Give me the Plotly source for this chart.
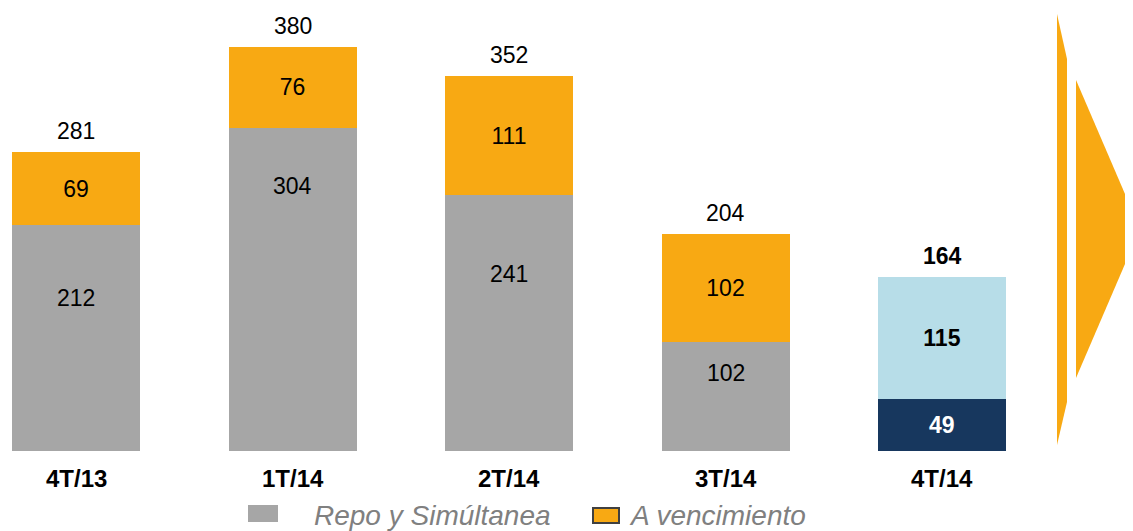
import plotly.graph_objects as go

# ---- data ----
categories = ["4T/13", "1T/14", "2T/14", "3T/14", "4T/14"]
repo_values = [212, 304, 241, 102, 49]        # bottom segment (last = navy)
venc_values = [69, 76, 111, 102, 115]         # top segment (last = light blue)
totals = [281, 380, 352, 204, 164]
legend_labels = ["Repo y Simúltanea", "A vencimiento"]

# ---- styling ----
GRAY = "#A6A6A6"
ORANGE = "#F8A913"
LBLUE = "#B7DDE8"
NAVY = "#17375E"
FONT = "Liberation Sans, Arial, sans-serif"
OFF = 8                      # page body margin
W, H = 1133 - OFF, 531 - OFF
BASE = 451                   # page y of bar baseline
PLOT_H = BASE - OFF          # plot area height (top margin 0)
PX_PER_UNIT = 1.064
CENTER0 = 76 - OFF           # first bar centre, figure px
STEP = 216.5                 # px between bar centres

# label heights (fraction of bottom segment) for the bottom-segment labels
bottom_label_frac = [0.68, 0.82, 0.69, 0.72, 0.5]


def px(x):
    """page pixel x -> paper"""
    return (x - OFF) / W


def py(y):
    """page pixel y -> paper"""
    return (BASE - y) / PLOT_H


bottom_colors = [GRAY, GRAY, GRAY, GRAY, NAVY]
top_colors = [ORANGE, ORANGE, ORANGE, ORANGE, LBLUE]

fig = go.Figure()
fig.add_trace(go.Bar(
    x=categories, y=repo_values, width=128 / STEP,
    marker=dict(color=bottom_colors, line=dict(width=0)),
    showlegend=False, hoverinfo="skip",
))
top_text = [str(v) for v in venc_values[:-1]] + [f"<b>{venc_values[-1]}</b>"]
fig.add_trace(go.Bar(
    x=categories, y=venc_values, width=128 / STEP,
    marker=dict(color=top_colors, line=dict(width=0)),
    text=top_text, textposition="inside", insidetextanchor="middle",
    textfont=dict(family=FONT, size=23, color="#000000"),
    textangle=0, constraintext="none",
    showlegend=False, hoverinfo="skip",
))

annotations = []
for i, (c, r, t) in enumerate(zip(categories, repo_values, totals)):
    last = i == len(categories) - 1
    annotations.append(dict(
        x=c, y=r * bottom_label_frac[i], xref="x", yref="y",
        text=f"<b>{r}</b>" if last else str(r), showarrow=False,
        font=dict(family=FONT, size=23, color="#FFFFFF" if last else "#000000"),
        yanchor="middle",
    ))
    annotations.append(dict(
        x=c, y=t, xref="x", yref="y",
        text=f"<b>{t}</b>" if last else str(t), showarrow=False,
        font=dict(family=FONT, size=23, color="#000000"),
        yanchor="middle", yshift=21,
    ))
    annotations.append(dict(
        x=c, y=0, xref="x", yref="y",
        text=f"<b>{c}</b>", showarrow=False,
        font=dict(family=FONT, size=24, color="#000000"),
        yanchor="middle", yshift=-27,
    ))

# legend text
annotations.append(dict(
    x=px(312), y=py(515), xref="paper", yref="paper", xanchor="left", yanchor="middle",
    text=f"<i>{legend_labels[0]}</i>", showarrow=False,
    font=dict(family=FONT, size=28, color="#808080"),
))
annotations.append(dict(
    x=px(627), y=py(515), xref="paper", yref="paper", xanchor="left", yanchor="middle",
    text=f"<i>{legend_labels[1]}</i>", showarrow=False,
    font=dict(family=FONT, size=28, color="#808080"),
))

shapes = [
    dict(type="rect", xref="paper", yref="paper",
         x0=px(248), x1=px(278), y0=py(522), y1=py(505),
         fillcolor=GRAY, line=dict(width=0)),
    dict(type="rect", xref="paper", yref="paper",
         x0=px(593), x1=px(619), y0=py(523), y1=py(508),
         fillcolor=ORANGE, line=dict(color="#404040", width=2)),
    dict(type="path", xref="paper", yref="paper",
         path=f"M {px(1057)},{py(14)} L {px(1067)},{py(59)} L {px(1067)},{py(402)} "
              f"L {px(1057)},{py(445)} Z",
         fillcolor=ORANGE, line=dict(width=0)),
    dict(type="path", xref="paper", yref="paper",
         path=f"M {px(1076)},{py(80)} L {px(1140)},{py(229)} L {px(1076)},{py(378)} Z",
         fillcolor=ORANGE, line=dict(width=0)),
]

fig.update_layout(
    width=W, height=H,
    barmode="stack",
    margin=dict(l=0, r=0, t=0, b=H - PLOT_H),
    paper_bgcolor="white", plot_bgcolor="white",
    xaxis=dict(range=[-CENTER0 / STEP, (W - CENTER0) / STEP], showticklabels=False,
               showgrid=False, zeroline=False, showline=False, ticks=""),
    yaxis=dict(range=[0, PLOT_H / PX_PER_UNIT], showticklabels=False, showgrid=False,
               zeroline=False, showline=False, ticks=""),
    annotations=annotations,
    shapes=shapes,
    font=dict(family=FONT),
)

fig.write_html("out.html", config={"displayModeBar": False})
